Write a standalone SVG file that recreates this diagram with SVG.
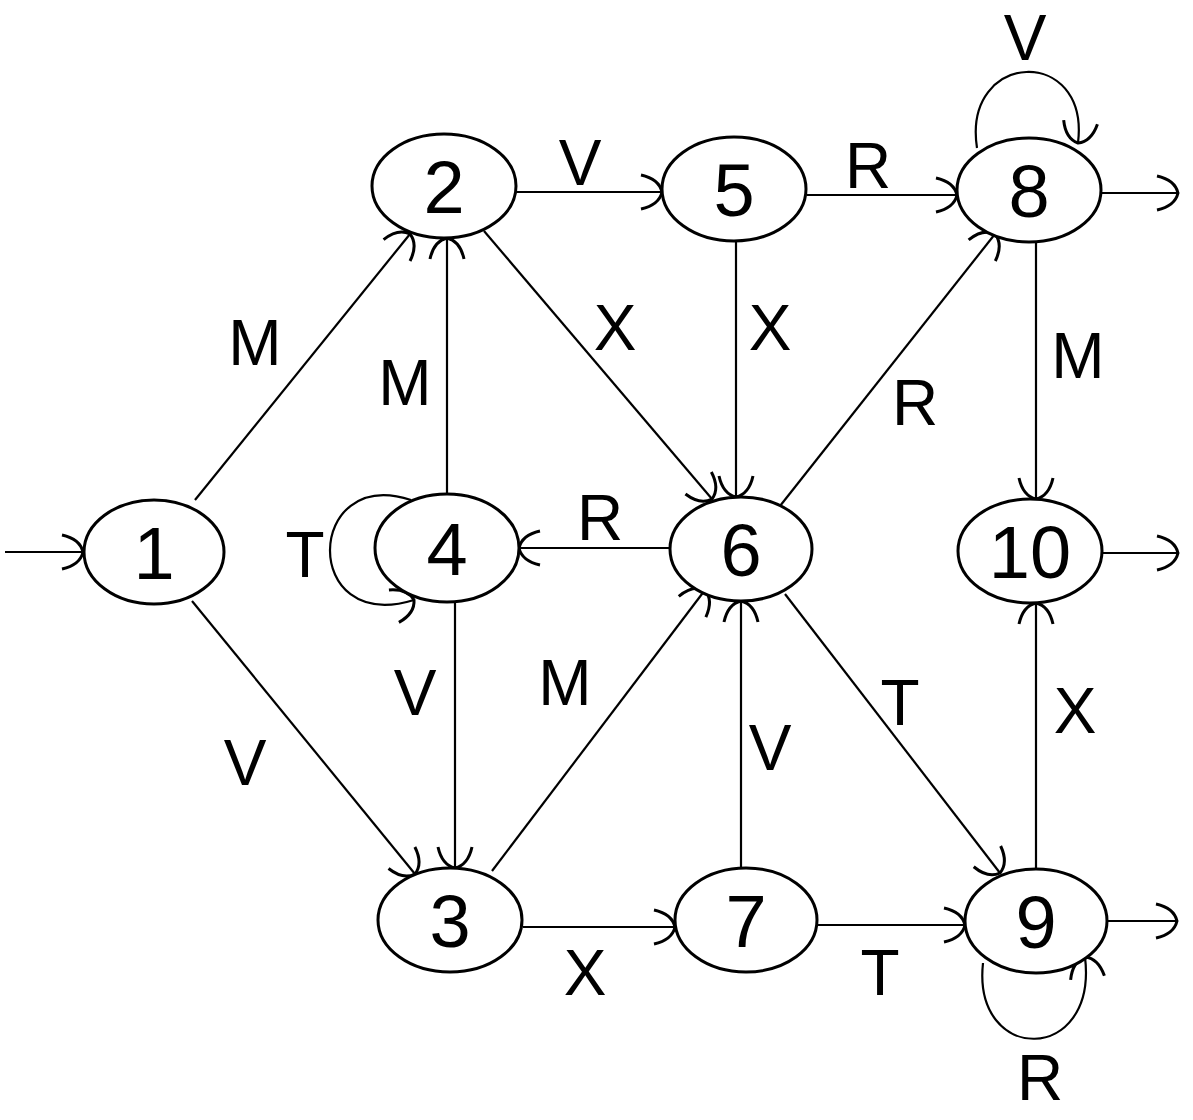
<svg xmlns="http://www.w3.org/2000/svg" width="1193" height="1120" viewBox="0 0 1193 1120">
<style>
.node ellipse{fill:#fff;stroke:#000;stroke-width:3}
.node text{font-family:"Liberation Sans",Arial,sans-serif;font-size:74px;text-anchor:middle;fill:#000}
.edge{fill:none;stroke:#000;stroke-width:2.2;marker-end:url(#arr)}
.lbl{font-family:"Liberation Sans",Arial,sans-serif;font-size:64px;text-anchor:middle;fill:#000}
</style>
<defs>
<marker id="arr" markerUnits="userSpaceOnUse" markerWidth="50" markerHeight="50" viewBox="-25 -25 50 50" refX="0" refY="0" orient="auto">
<path d="M -21,-17 Q -3,-13 0,0 Q -3,13 -21,17" fill="none" stroke="#000" stroke-width="3"/>
</marker>
</defs>
<rect width="1193" height="1120" fill="#fff"/>
<g id="connectors">
<path class="edge" d="M 5,552 L 83,552"/>
<path class="edge" d="M 195,500 L 410,234"/>
<path class="edge" d="M 192,601 L 415,874"/>
<path class="edge" d="M 447,493 L 447,238"/>
<path class="edge" d="M 455,603 L 455,868"/>
<path class="edge" d="M 411,500 C 305,465 300,635 414,600"/>
<path class="edge" d="M 517,192 L 662,192"/>
<path class="edge" d="M 484,231 L 712,499"/>
<path class="edge" d="M 736,242 L 736,497"/>
<path class="edge" d="M 807,195 L 957,195"/>
<path class="edge" d="M 780,506 L 995,234"/>
<path class="edge" d="M 670,548 L 519,548"/>
<path class="edge" d="M 492,871 L 705,590"/>
<path class="edge" d="M 741,868 L 741,601"/>
<path class="edge" d="M 785,594 L 1000,873"/>
<path class="edge" d="M 523,927 L 675,927"/>
<path class="edge" d="M 818,925 L 965,925"/>
<path class="edge" d="M 1036,242 L 1036,499"/>
<path class="edge" d="M 1036,869 L 1036,603"/>
<path class="edge" d="M 977,148 C 962,50 1090,45 1078,143"/>
<path class="edge" d="M 983,963 C 972,1065 1098,1065 1085,957"/>
<path class="edge" d="M 1101,193 L 1178,193"/>
<path class="edge" d="M 1102,553 L 1178,553"/>
<path class="edge" d="M 1107,921 L 1177,921"/>
<text class="lbl" x="255" y="365">M</text>
<text class="lbl" x="245" y="785">V</text>
<text class="lbl" x="405" y="405">M</text>
<text class="lbl" x="415" y="715">V</text>
<text class="lbl" x="305" y="577">T</text>
<text class="lbl" x="580" y="185">V</text>
<text class="lbl" x="615" y="350">X</text>
<text class="lbl" x="770" y="350">X</text>
<text class="lbl" x="868" y="188">R</text>
<text class="lbl" x="915" y="425">R</text>
<text class="lbl" x="600" y="540">R</text>
<text class="lbl" x="565" y="705">M</text>
<text class="lbl" x="770" y="770">V</text>
<text class="lbl" x="900" y="725">T</text>
<text class="lbl" x="585" y="995">X</text>
<text class="lbl" x="880" y="995">T</text>
<text class="lbl" x="1078" y="378">M</text>
<text class="lbl" x="1075" y="733">X</text>
<text class="lbl" x="1025" y="60">V</text>
<text class="lbl" x="1040" y="1100">R</text>
</g>
<g id="n1" class="node"><ellipse cx="154" cy="552" rx="70" ry="52"/><text x="154" y="579">1</text></g>
<g id="n2" class="node"><ellipse cx="444" cy="186" rx="72" ry="52"/><text x="444" y="213">2</text></g>
<g id="n3" class="node"><ellipse cx="450" cy="920" rx="72" ry="52"/><text x="450" y="947">3</text></g>
<g id="n4" class="node"><ellipse cx="447" cy="548" rx="72" ry="54"/><text x="447" y="575">4</text></g>
<g id="n5" class="node"><ellipse cx="734" cy="189" rx="72" ry="52"/><text x="734" y="216">5</text></g>
<g id="n6" class="node"><ellipse cx="741" cy="549" rx="71" ry="52"/><text x="741" y="576">6</text></g>
<g id="n7" class="node"><ellipse cx="746" cy="920" rx="71" ry="52"/><text x="746" y="947">7</text></g>
<g id="n8" class="node"><ellipse cx="1029" cy="190" rx="72" ry="52"/><text x="1029" y="217">8</text></g>
<g id="n9" class="node"><ellipse cx="1036" cy="921" rx="71" ry="52"/><text x="1036" y="948">9</text></g>
<g id="n10" class="node"><ellipse cx="1030" cy="551" rx="72" ry="52"/><text x="1030" y="578">10</text></g>
</svg>
